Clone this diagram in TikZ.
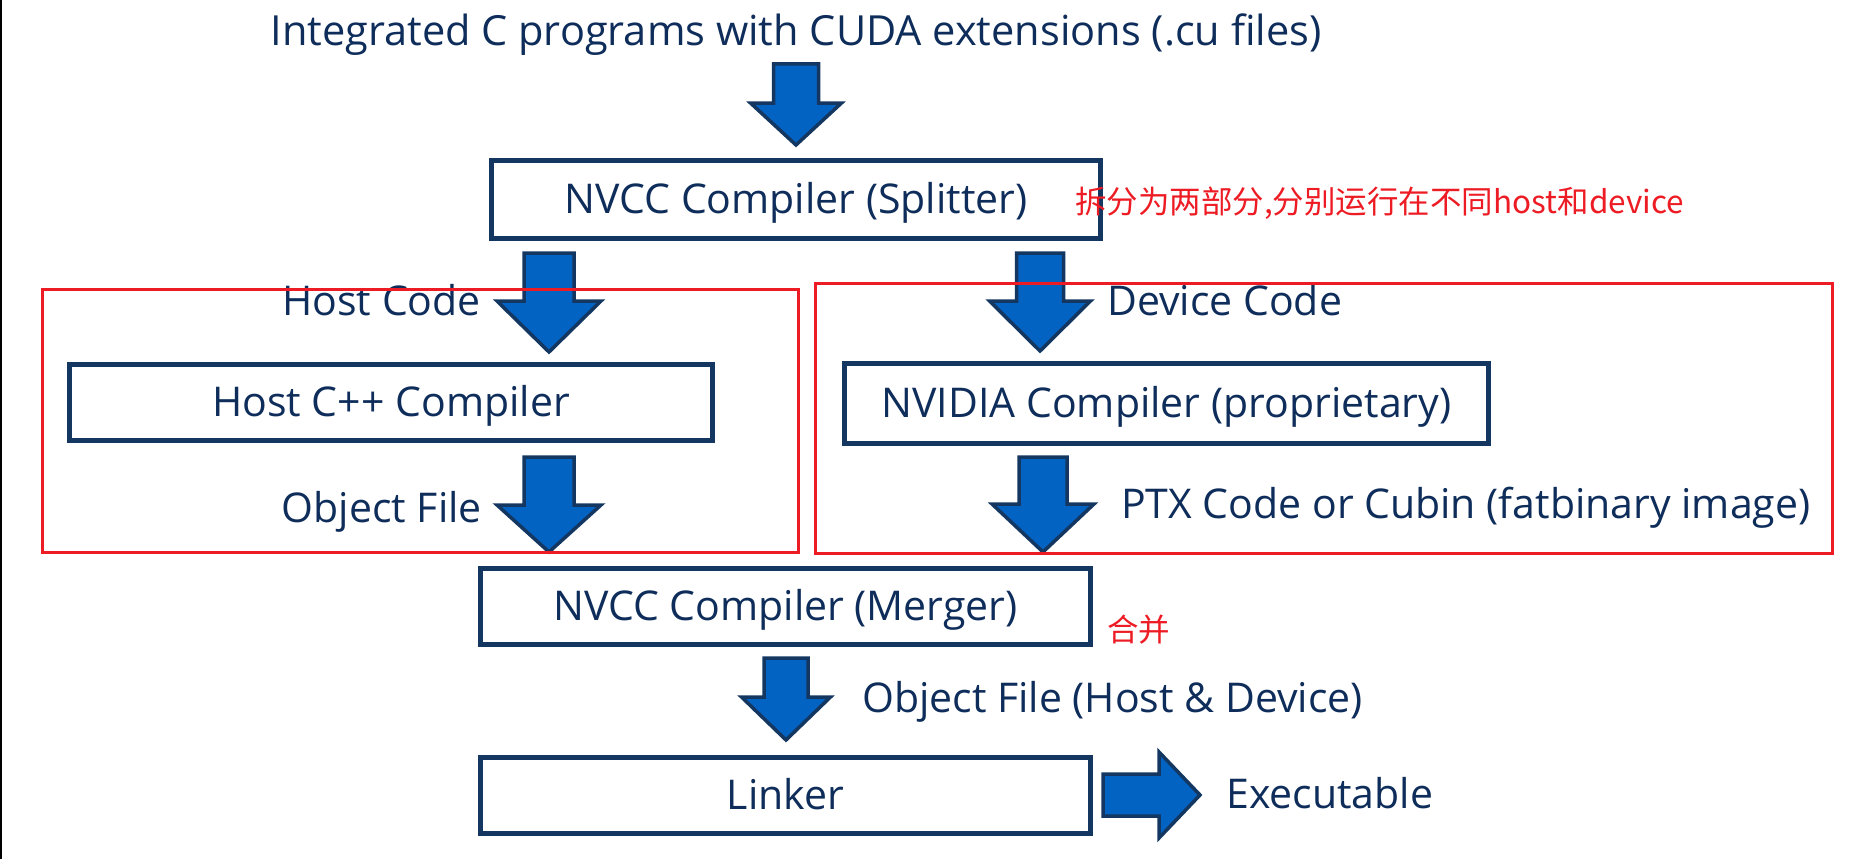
\documentclass[tikz,border=0pt]{standalone}
\usepackage{fontspec}
\setmainfont{Open Sans}
\newfontfamily\cjk{Noto Sans CJK SC}
\definecolor{navytext}{RGB}{14,45,90}
\definecolor{navyline}{RGB}{20,55,98}
\definecolor{arrowblue}{RGB}{3,99,195}
\definecolor{notered}{RGB}{237,28,36}
\tikzstyle{stage_box} = [rectangle, draw=navyline, line width=5pt, text=navytext, font=\fontsize{41}{49}\selectfont, text height=28pt, text depth=0pt, inner sep=0pt]
\tikzstyle{flow_label} = [text=navytext, font=\fontsize{41}{49}\selectfont, inner sep=0pt]
\tikzstyle{note_label} = [text=notered, font=\cjk\fontsize{31.5}{38}\selectfont, inner sep=0pt]
\tikzstyle{red_frame} = [draw=notered, line width=3pt]
\tikzstyle{block_arrow} = [draw=navyline, line width=3.5pt, fill=arrowblue, line join=miter]
% block arrow pointing down from (0,0): #2 length, #3 shaft, #4 head width, #5 head length
\newcommand{\flowarrow}[5][]{%
  \draw[block_arrow, #1] ({-#3/2},0) -- ({#3/2},0) -- ({#3/2},{#2-#5}) -- ({#4/2},{#2-#5}) -- (0,#2)
    -- ({-#4/2},{#2-#5}) -- ({-#3/2},{#2-#5}) -- cycle;}
\begin{document}
\begin{tikzpicture}[x=1pt, y=-1pt]
		\useasboundingbox (0,0) rectangle (1868,859);
		\draw[line width=2.5pt] (1,0) -- (1,859);
		
		\node[flow_label, font=\fontsize{41.5}{50}\selectfont, anchor=base] (title) at (796,46) {Integrated C programs with CUDA extensions (.cu files)};
		\flowarrow[shift={(796,64)}]{81}{45}{91}{42}
		\node[stage_box, minimum width=609pt, minimum height=78pt] (split_box) at (796,199.5) {NVCC Compiler (Splitter)};
		\node[note_label, anchor=base west] (split_note) at (1075,213) {拆分为两部分,分别运行在不同host和device};
		
		% host side
		\flowarrow[shift={(549,253)}]{99}{50}{104}{51}
		\node[flow_label, anchor=base east] (host_code) at (481,315) {Host Code};
		\node[stage_box, minimum width=643pt, minimum height=76pt] (host_cc) at (391,402.5) {Host C++ Compiler};
		\flowarrow[shift={(549,457)}]{95}{50}{104}{47}
		\node[flow_label, anchor=base east] (host_obj) at (482,522) {Object File};
		
		% device side
		\flowarrow[shift={(1040,253)}]{98}{47}{101}{50}
		\node[flow_label, anchor=base west] (dev_code) at (1107,315) {Device Code};
		\node[stage_box, minimum width=644pt, minimum height=80pt] (nvidia_cc) at (1166.5,403.5) {NVIDIA Compiler (proprietary)};
		\flowarrow[shift={(1043,457)}]{95}{48}{102}{48}
		\node[flow_label, anchor=base west] (dev_ptx) at (1121,518) {PTX Code or Cubin (fatbinary image)};
		
		% merge and link
		\node[stage_box, minimum width=610pt, minimum height=76pt] (merge_box) at (785.5,606.5) {NVCC Compiler (Merger)};
		\node[note_label, anchor=base west] (merge_note) at (1107,641) {合并};
		\flowarrow[shift={(786,658)}]{82}{44}{89}{43}
		\node[flow_label, anchor=base west] (both_obj) at (862,712) {Object File (Host \& Device)};
		\node[stage_box, minimum width=610pt, minimum height=76pt, below of=merge_box, node distance=189pt] (linker_box) {Linker};
		\flowarrow[shift={(1103,795)}, rotate=90]{97}{42}{86}{41}
		\node[flow_label, anchor=base west] (exe) at (1226,808) {Executable};
		
		% red frames
		\draw[red_frame] (42,289) rectangle (798,552);
		\draw[red_frame] (815,283) rectangle (1832,553);
		
\end{tikzpicture}
\end{document}
